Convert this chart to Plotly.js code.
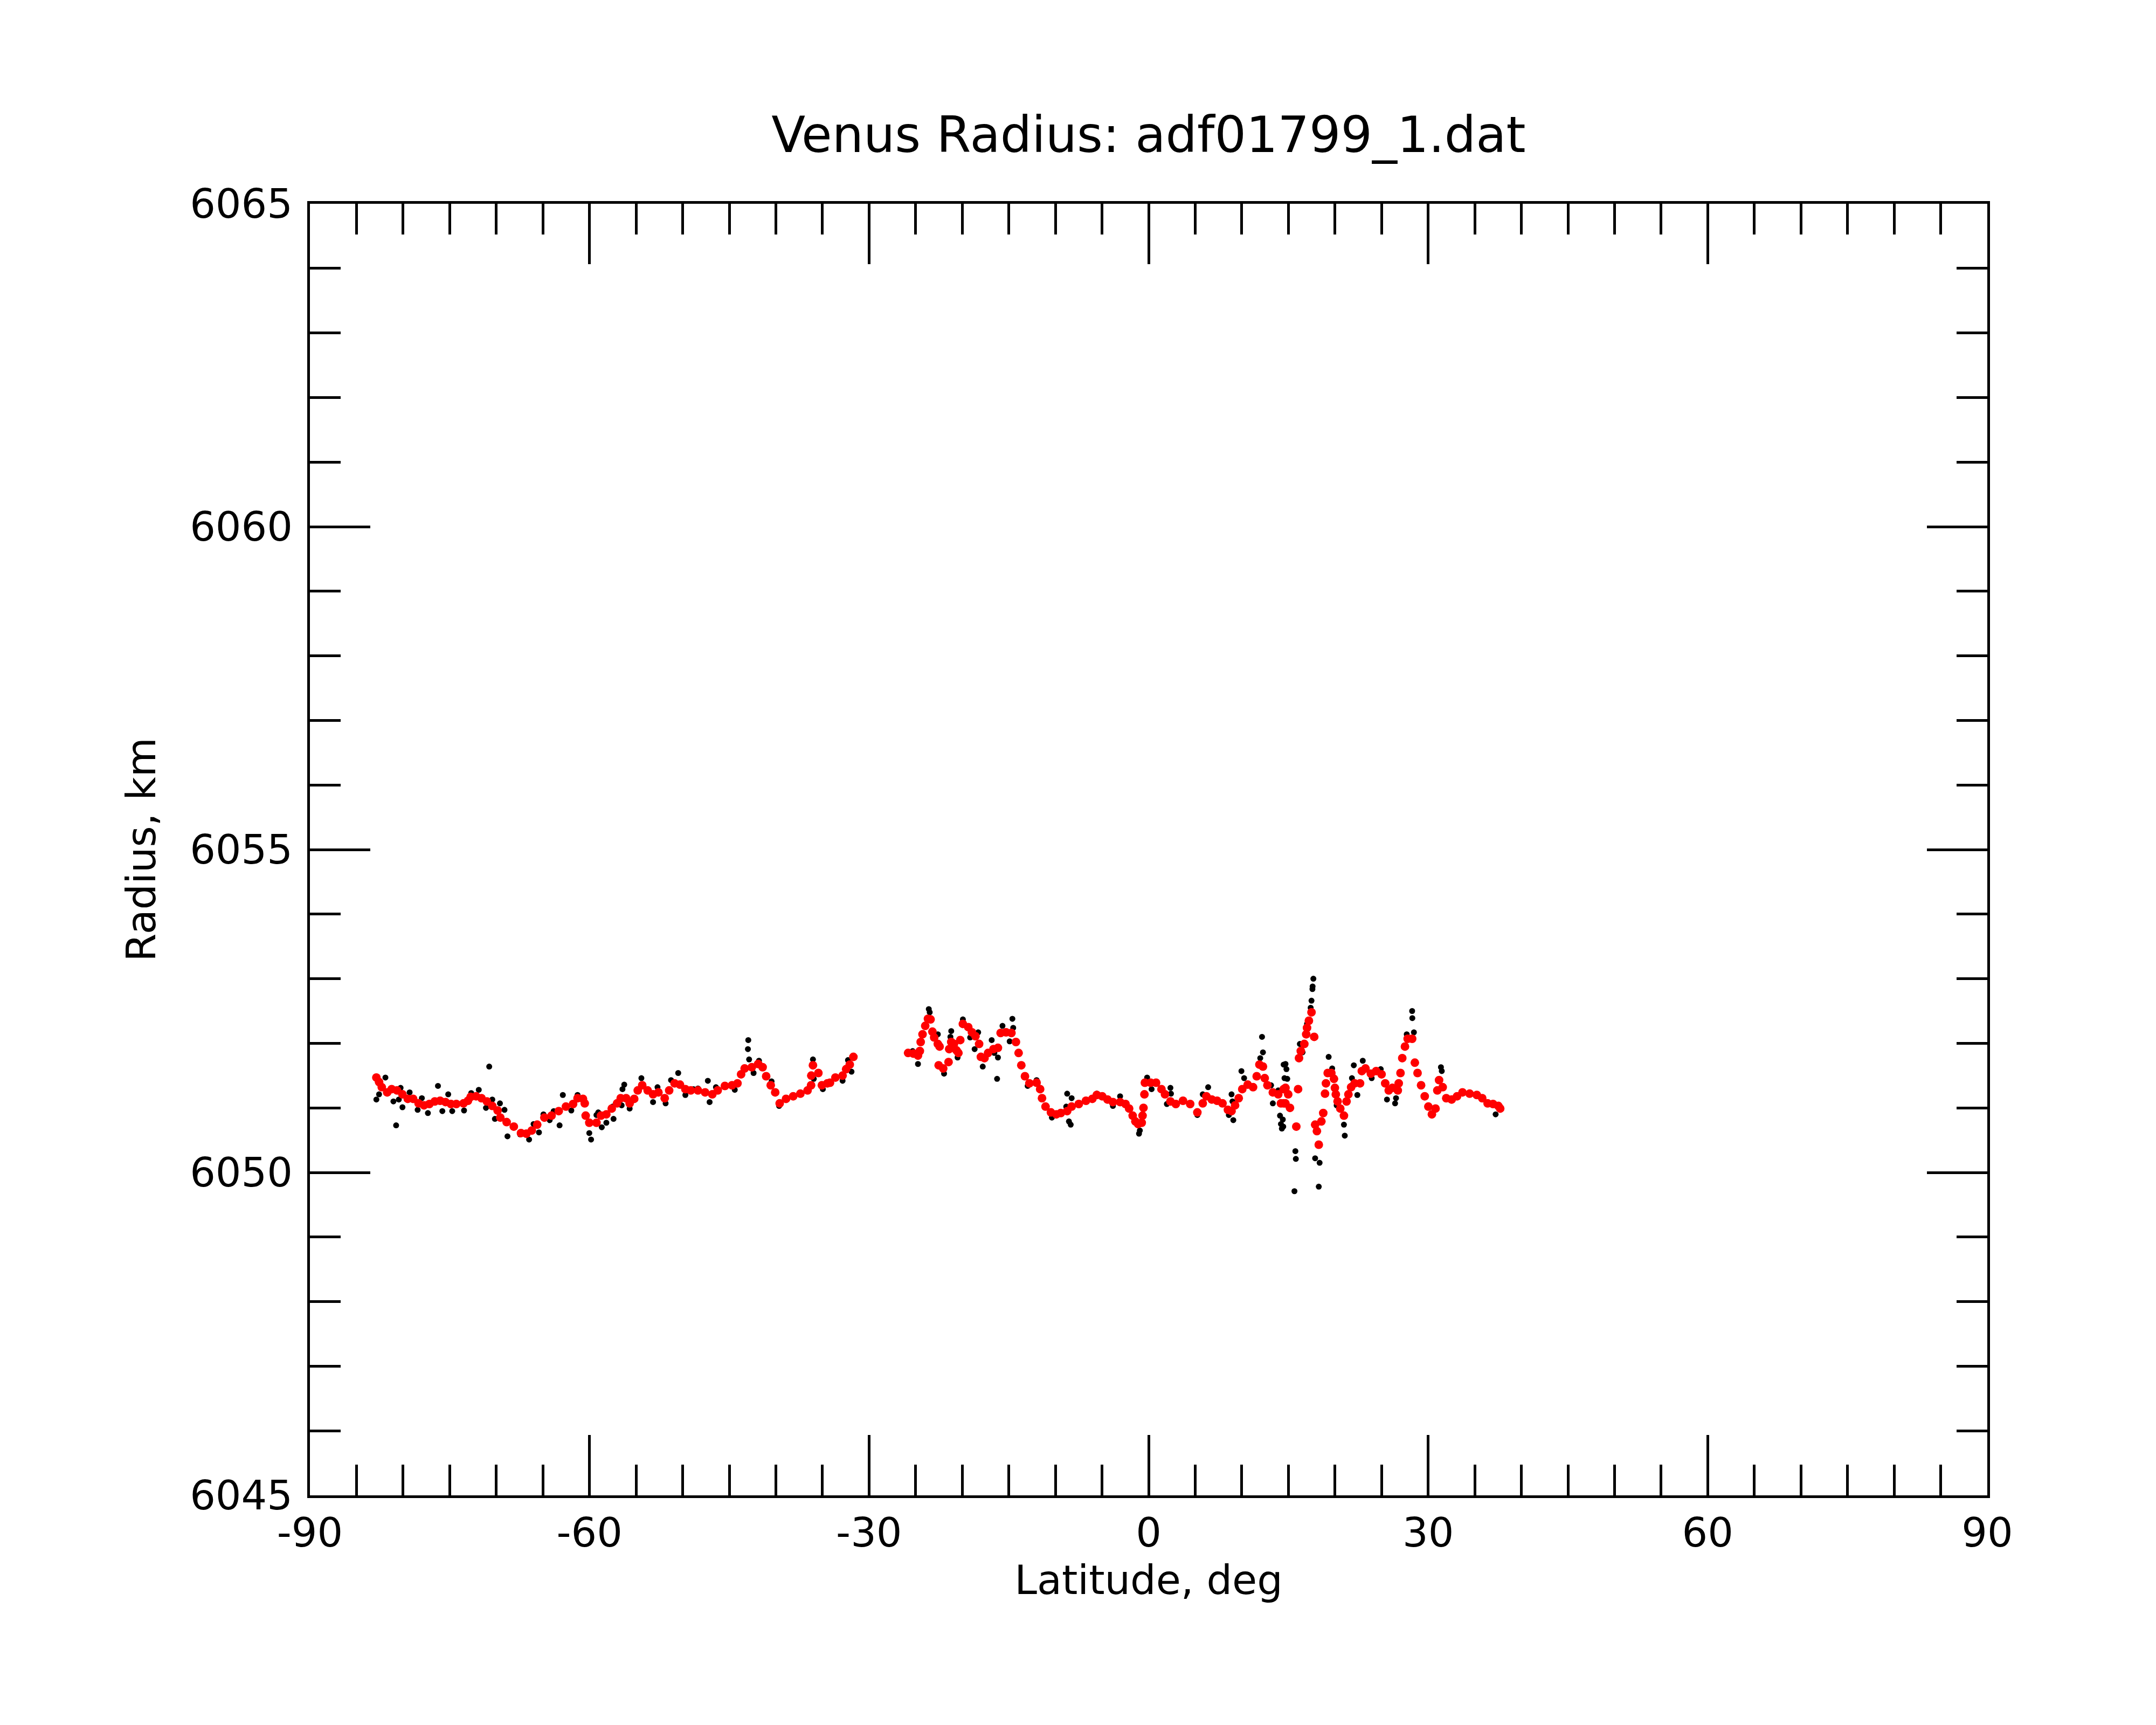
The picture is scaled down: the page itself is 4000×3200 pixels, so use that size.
<!DOCTYPE html>
<html>
<head>
<meta charset="utf-8">
<script src="https://cdn.plot.ly/plotly-3.0.1.min.js"></script>
<style>
  body { margin: 0; background: #fff; }
</style>
</head>
<body>
<div id="chart"></div>
<script>
// raw radius samples (black)
var rawLat = [
    -82.87, -82.58, -81.90, -81.04, -80.75, -80.46, -80.27, -80.07, -79.30, -78.44,
    -77.99, -77.34, -76.26, -75.79, -75.16, -74.73, -73.46, -72.69, -71.88, -71.11,
    -70.76, -70.43, -70.15, -69.61, -69.12, -68.80, -67.45, -66.48, -66.00, -65.42,
    -64.94, -64.27, -63.84, -63.21, -62.86, -61.95, -61.28, -60.02, -59.83, -59.25,
    -59.06, -58.68, -58.19, -57.52, -57.42, -56.55, -56.46, -56.27, -55.69, -54.43,
    -53.18, -52.70, -51.83, -51.25, -50.48, -49.71, -48.84, -48.36, -47.30, -47.11,
    -46.43, -44.41, -43.00, -42.96, -42.87, -42.39, -41.81, -40.46, -39.65, -36.02,
    -35.93, -34.96, -32.84, -32.26, -31.88,
    -25.32, -24.75, -23.59, -23.49, -22.62, -22.55, -21.95, -21.27, -21.18, -20.50,
    -19.93, -19.15, -18.67, -18.29, -17.80, -16.84, -16.55, -16.26, -16.17, -15.68,
    -14.91, -14.62, -14.53, -12.98, -12.02, -10.38, -8.84, -8.74, -8.55, -8.36,
    -8.26, -5.56, -3.83, -3.06, -1.03, -0.94, -0.16, 0.32, 1.96, 2.34,
    2.40, 5.23, 5.81, 6.39, 8.61, 8.90, 9.00, 9.09, 9.96, 10.25,
    11.98, 12.17, 12.27, 13.14, 13.33, 13.91, 14.10, 14.20, 14.30, 14.40,
    14.45, 14.49, 14.58, 14.69, 14.79, 14.88, 15.65, 15.75, 15.80, 16.23,
    16.52, 17.00, 17.39, 17.48, 17.58, 17.60, 17.68, 17.87, 18.26, 18.35,
    19.32, 19.70, 20.18, 20.96, 21.05, 21.82, 22.02, 22.40, 22.98, 23.94,
    24.91, 25.58, 26.45, 26.55, 27.70, 28.28, 28.30, 28.47, 31.37, 31.46,
    37.24
];
var rawRadius = [
    6051.13, 6051.21, 6051.47, 6051.10, 6050.73, 6051.13, 6051.31, 6051.01, 6051.24, 6050.97,
    6051.15, 6050.92, 6051.34, 6050.95, 6051.21, 6050.95, 6050.96, 6051.23, 6051.28, 6051.00,
    6051.64, 6051.13, 6050.83, 6051.07, 6050.97, 6050.56, 6050.59, 6050.51, 6050.75, 6050.62,
    6050.90, 6050.81, 6050.95, 6050.73, 6051.20, 6050.96, 6051.20, 6050.61, 6050.51, 6050.89,
    6050.93, 6050.70, 6050.77, 6051.02, 6050.83, 6051.04, 6051.29, 6051.36, 6050.99, 6051.46,
    6051.09, 6051.32, 6051.07, 6051.43, 6051.54, 6051.20, 6051.29, 6051.30, 6051.42, 6051.09,
    6051.32, 6051.28, 6051.91, 6052.05, 6051.75, 6051.54, 6051.73, 6051.41, 6051.03, 6051.75,
    6051.45, 6051.29, 6051.42, 6051.74, 6051.56,
    6051.88, 6051.68, 6052.53, 6052.48, 6052.14, 6051.98, 6051.53, 6052.10, 6052.19, 6051.78,
    6052.37, 6052.09, 6051.91, 6052.17, 6051.64, 6052.05, 6051.85, 6051.45, 6051.78, 6052.27,
    6052.03, 6052.38, 6052.24, 6051.34, 6051.43, 6050.85, 6051.02, 6051.22, 6050.79, 6050.74,
    6051.15, 6051.22, 6051.03, 6051.18, 6050.60, 6050.65, 6051.47, 6051.29, 6051.06, 6051.31,
    6051.22, 6050.89, 6051.21, 6051.32, 6050.89, 6051.21, 6051.10, 6050.81, 6051.57, 6051.46,
    6051.77, 6052.10, 6051.86, 6051.35, 6051.07, 6051.27, 6050.88, 6050.75, 6050.68, 6050.82,
    6050.71, 6051.67, 6051.46, 6051.68, 6051.60, 6051.45, 6049.71, 6050.33, 6050.21, 6051.99,
    6051.86, 6052.30, 6052.55, 6052.66, 6052.84, 6052.88, 6053.00, 6050.22, 6049.78, 6050.15,
    6051.79, 6051.61, 6051.04, 6050.74, 6050.57, 6051.46, 6051.66, 6051.20, 6051.73, 6051.46,
    6051.60, 6051.13, 6051.07, 6051.15, 6052.14, 6052.50, 6052.39, 6052.17, 6051.63, 6051.57,
    6050.90
];

// smoothed radius (red)
var fitLat = [
    -82.87, -82.58, -82.29, -81.71, -81.23, -80.65, -80.07, -79.50, -78.92, -78.34,
    -77.76, -77.18, -76.60, -76.03, -75.45, -74.87, -74.29, -73.52, -73.04, -72.75,
    -72.17, -71.59, -71.01, -70.43, -69.86, -69.57, -68.89, -68.12, -67.35, -66.77,
    -66.19, -65.61, -64.84, -64.07, -63.30, -62.53, -61.76, -61.28, -60.70, -60.51,
    -60.41, -60.02, -59.25, -58.77, -58.19, -57.61, -57.04, -56.65, -56.07, -55.69,
    -55.20, -54.82, -54.34, -53.76, -53.18, -52.60, -51.93, -51.45, -50.87, -50.29,
    -49.71, -49.13, -48.36, -47.59, -46.82, -46.24, -45.47, -44.70, -44.12, -43.73,
    -43.35, -42.58, -41.90, -41.42, -41.04, -40.55, -40.07, -39.59, -38.91, -38.14,
    -37.37, -36.60, -36.22, -36.20, -36.02, -35.44, -35.06, -34.48, -34.19, -33.61,
    -32.84, -32.46, -32.07, -31.68,
    -25.81, -25.23, -24.75, -24.55, -24.46, -24.26, -23.97, -23.68, -23.40, -23.20,
    -23.01, -22.62, -22.43, -22.53, -22.04, -21.47, -21.40, -21.18, -20.89, -20.61,
    -20.41, -20.21, -19.93, -19.35, -18.96, -18.58, -18.19, -18.00, -17.61, -17.23,
    -16.65, -16.17, -15.88, -15.30, -14.72, -14.24, -13.95, -13.66, -13.27, -12.79,
    -12.02, -11.64, -11.44, -11.06, -10.48, -9.90, -9.42, -8.74, -8.26, -7.49,
    -6.72, -6.04, -5.56, -4.98, -4.41, -3.83, -3.06, -2.48, -2.09, -1.71,
    -1.42, -1.13, -0.74, -0.65, -0.55, -0.45, -0.40, 0.22, 0.80, 1.38,
    1.76, 2.34, 2.92, 3.69, 4.46, 5.23, 5.81, 6.20, 6.78, 7.35,
    7.93, 8.51, 8.90, 9.28, 9.67, 10.05, 10.63, 11.21, 11.60, 11.89,
    12.27, 12.46, 12.75, 13.33, 13.91, 14.20, 14.49, 14.50, 14.68, 14.69,
    14.98, 15.17, 15.85, 16.04, 16.14, 16.33, 16.71, 16.91, 17.00, 17.20,
    17.48, 17.77, 17.87, 18.06, 18.26, 18.54, 18.74, 18.93, 19.03, 19.22,
    19.61, 19.89, 19.99, 20.09, 20.28, 20.57, 20.96, 21.24, 21.44, 21.73,
    22.11, 22.69, 22.88, 23.27, 23.85, 24.42, 25.00, 25.39, 25.77, 26.16,
    26.74, 26.84, 27.03, 27.22, 27.51, 27.80, 28.28, 28.57, 28.86, 29.24,
    29.63, 30.02, 30.40, 30.79, 30.98, 31.17, 31.56, 31.94, 32.52, 33.10,
    33.68, 34.45, 35.22, 35.80, 36.38, 36.96, 37.53, 37.73
];
var fitRadius = [
    6051.47, 6051.40, 6051.32, 6051.24, 6051.29, 6051.27, 6051.21, 6051.14, 6051.14, 6051.07,
    6051.04, 6051.06, 6051.10, 6051.11, 6051.09, 6051.06, 6051.06, 6051.07, 6051.11, 6051.17,
    6051.18, 6051.15, 6051.10, 6051.03, 6050.96, 6050.85, 6050.78, 6050.71, 6050.61, 6050.60,
    6050.65, 6050.74, 6050.85, 6050.88, 6050.95, 6051.02, 6051.06, 6051.15, 6051.14, 6051.07,
    6050.88, 6050.77, 6050.77, 6050.88, 6050.90, 6050.99, 6051.07, 6051.15, 6051.15, 6051.07,
    6051.14, 6051.27, 6051.35, 6051.27, 6051.21, 6051.24, 6051.15, 6051.27, 6051.38, 6051.36,
    6051.29, 6051.27, 6051.27, 6051.24, 6051.21, 6051.27, 6051.34, 6051.35, 6051.38, 6051.52,
    6051.61, 6051.63, 6051.68, 6051.63, 6051.49, 6051.35, 6051.24, 6051.07, 6051.14, 6051.18,
    6051.22, 6051.27, 6051.35, 6051.50, 6051.66, 6051.54, 6051.35, 6051.38, 6051.39, 6051.47,
    6051.50, 6051.60, 6051.67, 6051.79,
    6051.85, 6051.84, 6051.81, 6051.88, 6052.02, 6052.14, 6052.27, 6052.38, 6052.37, 6052.18,
    6052.09, 6051.99, 6051.95, 6051.66, 6051.61, 6051.71, 6051.91, 6052.02, 6051.99, 6051.89,
    6051.85, 6052.05, 6052.30, 6052.25, 6052.17, 6052.11, 6051.99, 6051.79, 6051.77, 6051.85,
    6051.91, 6051.93, 6052.16, 6052.17, 6052.16, 6052.02, 6051.85, 6051.66, 6051.49, 6051.38,
    6051.39, 6051.29, 6051.15, 6051.02, 6050.93, 6050.90, 6050.92, 6050.95, 6051.02, 6051.06,
    6051.11, 6051.14, 6051.20, 6051.18, 6051.13, 6051.09, 6051.09, 6051.06, 6050.99, 6050.88,
    6050.79, 6050.75, 6050.77, 6050.88, 6051.00, 6051.21, 6051.39, 6051.39, 6051.39, 6051.29,
    6051.21, 6051.10, 6051.06, 6051.11, 6051.06, 6050.93, 6051.07, 6051.18, 6051.13, 6051.11,
    6051.07, 6050.97, 6050.95, 6051.04, 6051.15, 6051.29, 6051.36, 6051.32, 6051.49, 6051.67,
    6051.64, 6051.46, 6051.35, 6051.24, 6051.21, 6051.07, 6051.29, 6051.07, 6051.07, 6051.31,
    6051.21, 6051.00, 6050.71, 6051.29, 6051.77, 6051.88, 6051.99, 6052.14, 6052.24, 6052.35,
    6052.48, 6052.10, 6050.74, 6050.64, 6050.43, 6050.79, 6050.92, 6051.22, 6051.38, 6051.54,
    6051.54, 6051.45, 6051.31, 6051.21, 6051.10, 6050.99, 6050.88, 6051.10, 6051.21, 6051.32,
    6051.38, 6051.38, 6051.57, 6051.61, 6051.53, 6051.57, 6051.52, 6051.38, 6051.27, 6051.31,
    6051.27, 6051.38, 6051.54, 6051.77, 6051.95, 6052.07, 6052.07, 6051.70, 6051.54, 6051.35,
    6051.18, 6051.02, 6050.90, 6050.99, 6051.27, 6051.43, 6051.32, 6051.15, 6051.13, 6051.18,
    6051.24, 6051.22, 6051.20, 6051.15, 6051.07, 6051.06, 6051.03, 6050.99
];

var xTicks = [-90, -60, -30, 0, 30, 60, 90];
var yTicks = [6045, 6050, 6055, 6060, 6065];

var config = {
    staticPlot: true
};

var raw = {
    x: rawLat,
    y: rawRadius,
    mode: 'markers',
    type: 'scatter',
    marker: { color: '#000000', size: 11 },
    hoverinfo: 'skip'
};

var fit = {
    x: fitLat,
    y: fitRadius,
    mode: 'markers',
    type: 'scatter',
    marker: { color: '#ff0000', size: 16 },
    hoverinfo: 'skip'
};

var font = { family: 'DejaVu Sans', size: 75, color: '#000000' };

var layout = {
    width: 4000,
    height: 3200,
    showlegend: false,
    paper_bgcolor: '#ffffff',
    plot_bgcolor: '#ffffff',
    font: font,
    margin: { l: 575, r: 313, t: 378, b: 426 },
    title: {
        text: 'Venus Radius: adf01799_1.dat',
        font: { family: 'DejaVu Sans', size: 92, color: '#000000' },
        x: 0.5,
        xref: 'paper',
        y: 1 - 250 / 3200,
        yref: 'container',
        yanchor: 'middle'
    },
    xaxis: {
        range: [-90, 90],
        tickvals: xTicks,
        ticktext: xTicks.map(String),
        ticks: 'inside',
        ticklen: 112,
        tickwidth: 5,
        tickcolor: '#000000',
        minor: { dtick: 5, tick0: 0, ticks: 'inside', ticklen: 57, tickwidth: 5, tickcolor: '#000000' },
        showline: true,
        linewidth: 5,
        linecolor: '#000000',
        mirror: 'ticks',
        showgrid: false,
        zeroline: false,
        tickfont: font,
        title: { text: 'Latitude, deg', font: font, standoff: 0 },
        automargin: false
    },
    yaxis: {
        range: [6045, 6065],
        tickvals: yTicks,
        ticktext: yTicks.map(String),
        ticks: 'inside',
        ticklen: 112,
        tickwidth: 5,
        tickcolor: '#000000',
        minor: { dtick: 1, tick0: 6045, ticks: 'inside', ticklen: 57, tickwidth: 5, tickcolor: '#000000' },
        showline: true,
        linewidth: 5,
        linecolor: '#000000',
        mirror: 'ticks',
        showgrid: false,
        zeroline: false,
        tickfont: font,
        ticklabelstandoff: 12,
        title: { text: 'Radius, km', font: font, standoff: 40 },
        automargin: false
    }
};

Plotly.newPlot('chart', [raw, fit], layout, config);
</script>
</body>
</html>
